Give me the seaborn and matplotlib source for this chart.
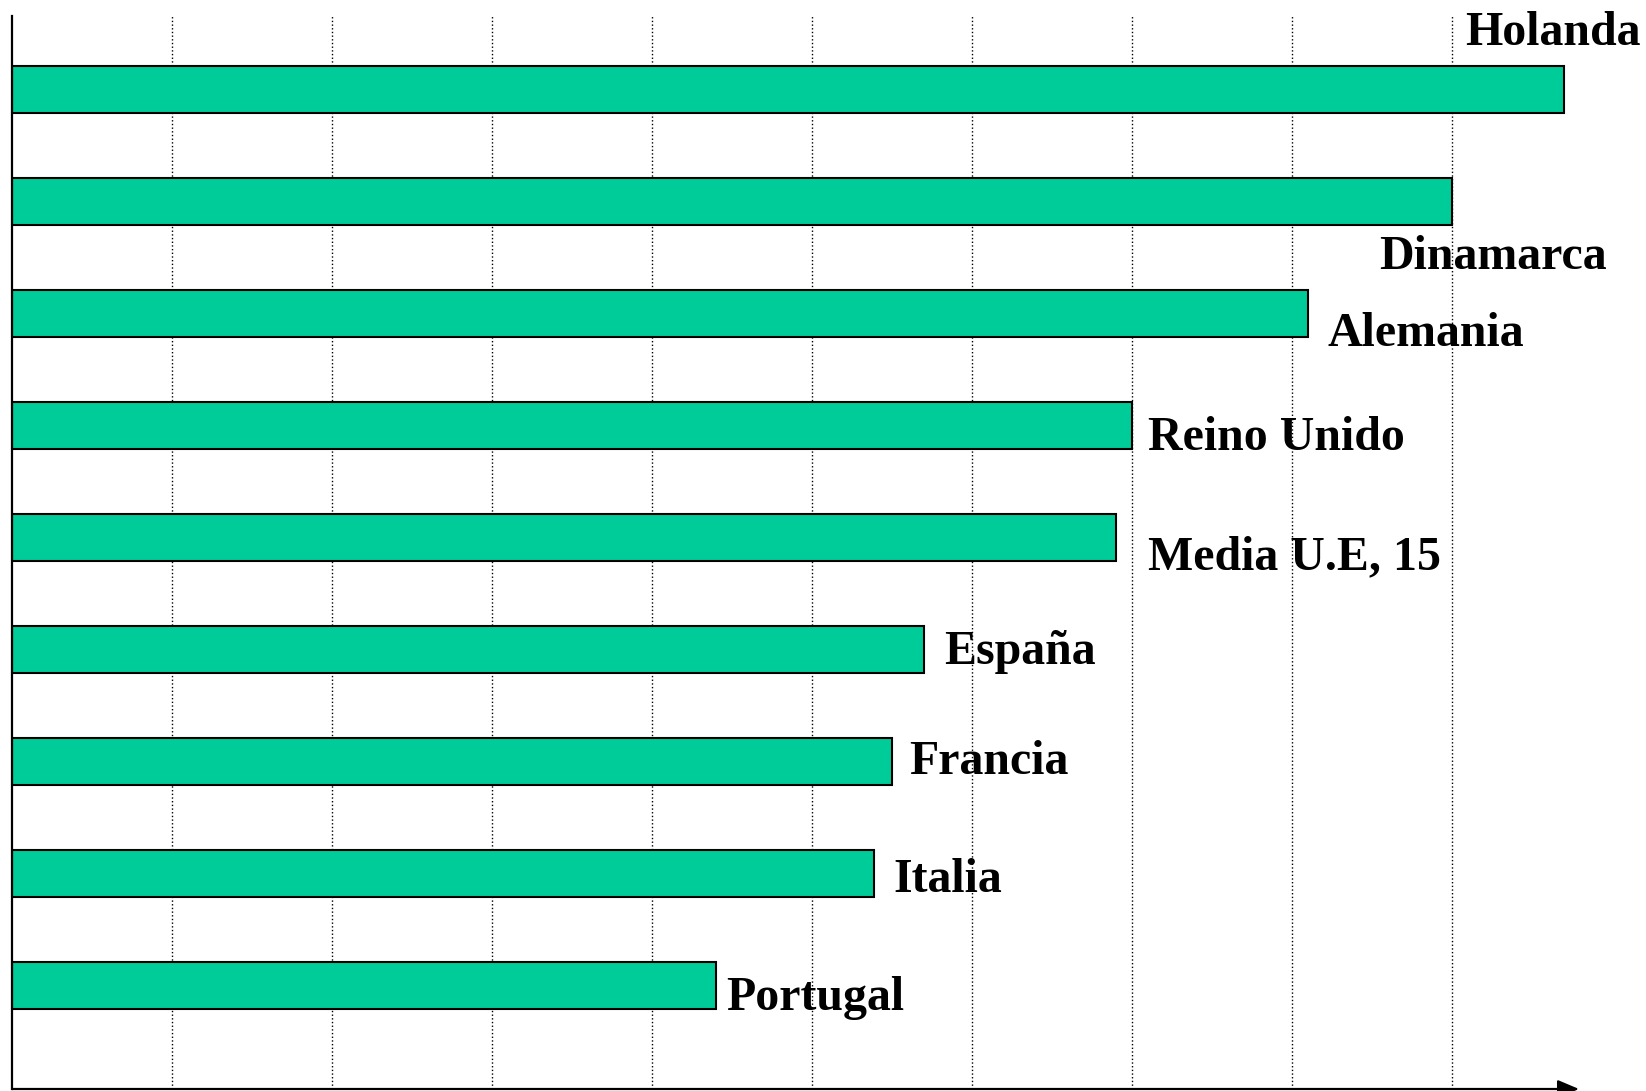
import matplotlib
matplotlib.use("Agg")
import matplotlib.pyplot as plt
import seaborn as sns
import pandas as pd

# data (grid units)
countries = ["Holanda", "Dinamarca", "Alemania", "Reino Unido", "Media U.E, 15",
             "España", "Francia", "Italia", "Portugal"]
values = [9.7, 9.0, 8.1, 7.0, 6.9, 5.7, 5.5, 5.39, 4.4]

# label offsets from bar end, in pixels (layout only)
label_offsets = [(-99, 56), (-73, -56), (20, -20), (16, -12), (32, -20),
                 (20, -2), (17, 0), (19, -6), (10, -12)]

df = pd.DataFrame({"pais": countries, "valor": values})

sns.set_style("white")
plt.rcParams["font.family"] = ["Liberation Serif", "DejaVu Serif"]

fig = plt.figure(figsize=(16.46, 10.91), dpi=100)
ax = fig.add_axes([12 / 1646, 2 / 1091, (1579 - 12) / 1646, (1089 - 16) / 1091])

sns.barplot(data=df, x="valor", y="pais", orient="h", color="#00CC99",
            saturation=1, edgecolor="black", linewidth=1.5, width=0.42, ax=ax)

ax.set_xlim(0, (1579 - 12) / 160)
ax.set_ylim(8.923, -0.656)

ax.set_xticks(range(1, 10))
ax.set_yticks([])
ax.set_xticklabels([])
ax.tick_params(length=0)
ax.grid(axis="x", linestyle=":", color="black", linewidth=1)
ax.set_axisbelow(True)
ax.set_xlabel("")
ax.set_ylabel("")

for s in ["top", "right", "bottom"]:
    ax.spines[s].set_visible(False)
ax.spines["left"].set_color("black")
ax.spines["left"].set_linewidth(1.6)

# x axis with arrow
ax.annotate("", xy=(1, 0), xytext=(0, 0), xycoords="axes fraction",
            arrowprops=dict(arrowstyle="-|>,head_length=1.3,head_width=0.55",
                            color="black", lw=1.6, shrinkA=0, shrinkB=0),
            annotation_clip=False)

for i, (name, val) in enumerate(zip(countries, values)):
    dx, dy = label_offsets[i]
    ax.annotate(name, xy=(val, i), xytext=(dx, dy), textcoords="offset pixels",
                ha="left", va="center", fontsize=34.5, fontweight="bold",
                color="black", annotation_clip=False)

fig.savefig("out.png", dpi=100)
